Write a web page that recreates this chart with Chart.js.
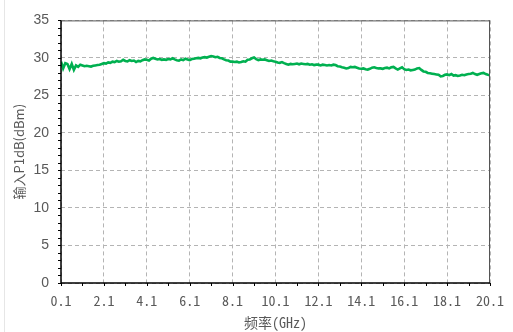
<!DOCTYPE html>
<html>
<head>
<meta charset="utf-8">
<script src="https://cdn.jsdelivr.net/npm/chart.js@4.4.1/dist/chart.umd.min.js"></script>
<style>
  html, body { margin: 0; padding: 0; background: #fff; }
  #wrap { width: 513px; height: 332px; position: relative; }
</style>
</head>
<body>
<div id="wrap"><canvas id="chart" width="513" height="332"></canvas></div>
<script>
// frequency points (GHz)
const freqs = [
  0.1, 0.2, 0.3, 0.4, 0.5, 0.6, 0.7, 0.8, 0.9, 1.0,
  1.1, 1.2, 1.3, 1.4, 1.5, 1.6, 1.7, 1.8, 1.9, 2.0,
  2.1, 2.2, 2.3, 2.4, 2.5, 2.6, 2.7, 2.8, 2.9, 3.0,
  3.1, 3.2, 3.3, 3.4, 3.5, 3.6, 3.7, 3.8, 3.9, 4.0,
  4.1, 4.2, 4.3, 4.4, 4.5, 4.6, 4.7, 4.8, 4.9, 5.0,
  5.1, 5.2, 5.3, 5.4, 5.5, 5.6, 5.7, 5.8, 5.9, 6.0,
  6.1, 6.2, 6.3, 6.4, 6.5, 6.6, 6.7, 6.8, 6.9, 7.0,
  7.1, 7.2, 7.3, 7.4, 7.5, 7.6, 7.7, 7.8, 7.9, 8.0,
  8.1, 8.2, 8.3, 8.4, 8.5, 8.6, 8.7, 8.8, 8.9, 9.0,
  9.1, 9.2, 9.3, 9.4, 9.5, 9.6, 9.7, 9.8, 9.9, 10.0,
  10.1, 10.2, 10.3, 10.4, 10.5, 10.6, 10.7, 10.8, 10.9, 11.0,
  11.1, 11.2, 11.3, 11.4, 11.5, 11.6, 11.7, 11.8, 11.9, 12.0,
  12.1, 12.2, 12.3, 12.4, 12.5, 12.6, 12.7, 12.8, 12.9, 13.0,
  13.1, 13.2, 13.3, 13.4, 13.5, 13.6, 13.7, 13.8, 13.9, 14.0,
  14.1, 14.2, 14.3, 14.4, 14.5, 14.6, 14.7, 14.8, 14.9, 15.0,
  15.1, 15.2, 15.3, 15.4, 15.5, 15.6, 15.7, 15.8, 15.9, 16.0,
  16.1, 16.2, 16.3, 16.4, 16.5, 16.6, 16.7, 16.8, 16.9, 17.0,
  17.1, 17.2, 17.3, 17.4, 17.5, 17.6, 17.7, 17.8, 17.9, 18.0,
  18.1, 18.2, 18.3, 18.4, 18.5, 18.6, 18.7, 18.8, 18.9, 19.0,
  19.1, 19.2, 19.3, 19.4, 19.5, 19.6, 19.7, 19.8, 19.9, 20.0,
  20.1
];

// input P1dB (dBm)
const p1db = [
  29.5, 28.6, 29.3, 29.2, 28.5, 29.2, 28.4, 29.0, 28.8, 29.1,
  29.0, 28.9, 28.95, 28.9, 28.85, 28.95, 29.0, 29.05, 29.1, 29.2,
  29.3, 29.25, 29.4, 29.35, 29.5, 29.45, 29.6, 29.5, 29.55, 29.75,
  29.6, 29.55, 29.7, 29.6, 29.65, 29.45, 29.6, 29.55, 29.7, 29.8,
  29.75, 29.65, 29.9, 30.0, 29.9, 29.8, 29.85, 29.75, 29.8, 29.75,
  29.85, 29.8, 29.95, 29.8, 29.7, 29.65, 29.8, 29.7, 29.9, 29.8,
  29.7, 29.85, 29.9, 29.95, 30.0, 29.95, 30.05, 30.1, 30.05, 30.15,
  30.25, 30.2, 30.1, 30.15, 30.0, 29.95, 29.8, 29.7, 29.65, 29.5,
  29.5, 29.45, 29.5, 29.4, 29.45, 29.55, 29.5, 29.75, 29.8, 29.95,
  30.05, 29.85, 29.7, 29.8, 29.75, 29.8, 29.7, 29.6, 29.65, 29.55,
  29.5, 29.4, 29.35, 29.45, 29.3, 29.2, 29.1, 29.2, 29.15, 29.2,
  29.25, 29.15, 29.25, 29.2, 29.15, 29.2, 29.1, 29.15, 29.05, 29.1,
  29.1, 29.0, 29.1, 29.05, 29.0, 29.05, 29.0, 29.1, 29.05, 28.9,
  28.85, 28.75, 28.7, 28.6, 28.65, 28.8, 28.75, 28.8, 28.7, 28.6,
  28.55, 28.6, 28.5, 28.45, 28.55, 28.7, 28.75, 28.65, 28.6, 28.6,
  28.55, 28.65, 28.7, 28.6, 28.75, 28.8, 28.6, 28.45, 28.6, 28.75,
  28.5, 28.4, 28.45, 28.35, 28.4, 28.45, 28.6, 28.65, 28.4, 28.2,
  28.15, 28.0, 27.95, 27.9, 27.85, 27.8, 27.75, 27.55, 27.6, 27.75,
  27.8, 27.7, 27.85, 27.65, 27.7, 27.6, 27.65, 27.75, 27.7, 27.8,
  27.85, 27.9, 28.0, 27.85, 27.75, 27.85, 27.95, 28.0, 27.85, 27.75,
  27.7
];

const xTicks = [0.1, 2.1, 4.1, 6.1, 8.1, 10.1, 12.1, 14.1, 16.1, 18.1, 20.1];
const yTicks = [0, 5, 10, 15, 20, 25, 30, 35];

const monoFont = '"Noto Sans Mono CJK SC", "DejaVu Sans Mono", monospace';

// frame, minor ticks and the faint left rule
const framePlugin = {
  id: 'frame',
  afterDraw(chart) {
    const ctx = chart.ctx;
    const a = chart.chartArea;
    const xs = chart.scales.x, ys = chart.scales.y;
    ctx.save();
    ctx.strokeStyle = '#e6e6e6';
    ctx.lineWidth = 1;
    ctx.beginPath();
    ctx.moveTo(4.5, 0); ctx.lineTo(4.5, 332);
    ctx.stroke();

    ctx.strokeStyle = '#555';
    ctx.beginPath();
    ctx.moveTo(a.left, a.top + 0.5); ctx.lineTo(a.right, a.top + 0.5);
    ctx.moveTo(a.right - 0.5, a.top); ctx.lineTo(a.right - 0.5, a.bottom);
    ctx.stroke();

    ctx.strokeStyle = '#000';
    ctx.lineWidth = 1.5;
    ctx.beginPath();
    ctx.moveTo(a.left, a.top); ctx.lineTo(a.left, a.bottom);
    ctx.moveTo(a.left, a.bottom); ctx.lineTo(a.right, a.bottom);
    ctx.stroke();

    ctx.lineWidth = 1;
    ctx.beginPath();
    for (let v = 0; v <= 35; v += 1) {
      const py = Math.round(ys.getPixelForValue(v)) + 0.5;
      ctx.moveTo(a.left - 3, py); ctx.lineTo(a.left, py);
    }
    for (let v = 0.1; v <= 20.15; v += 1) {
      const px = Math.round(xs.getPixelForValue(v)) + 0.5;
      ctx.moveTo(px, a.bottom); ctx.lineTo(px, a.bottom + 3);
    }
    ctx.stroke();
    ctx.restore();
  }
};

new Chart(document.getElementById('chart'), {
  type: 'line',
  data: {
    datasets: [{
      data: freqs.map((f, i) => ({ x: f, y: p1db[i] })),
      borderColor: '#00b050',
      borderWidth: 2.6,
      pointRadius: 0,
      tension: 0
    }]
  },
  options: {
    responsive: false,
    animation: false,
    layout: { padding: { top: 15, right: 21, left: 0, bottom: 0 } },
    plugins: { legend: { display: false }, tooltip: { enabled: false } },
    scales: {
      x: {
        type: 'linear',
        min: 0.1,
        max: 20.1,
        afterBuildTicks: s => { s.ticks = xTicks.map(v => ({ value: v })); },
        afterFit: s => { s.height = 49; },
        grid: { color: '#b4b4b4', drawTicks: false },
        border: { display: false, dash: [4, 3] },
        ticks: {
          padding: 9,
          color: '#595959',
          maxRotation: 0,
          autoSkip: false,
          font: { family: monoFont, size: 14 },
          callback: v => v.toFixed(1)
        },
        title: {
          display: true,
          text: '频率(GHz)',
          color: '#595959',
          padding: { top: 0, bottom: 1 },
          font: { family: monoFont, size: 14 }
        }
      },
      y: {
        min: 0,
        max: 35,
        afterBuildTicks: s => { s.ticks = yTicks.map(v => ({ value: v })); },
        afterFit: s => { s.width = 61; },
        grid: { color: '#b4b4b4', drawTicks: false },
        border: { display: false, dash: [4, 3] },
        ticks: {
          padding: 12,
          color: '#595959',
          font: { family: '"Liberation Sans", Arial, sans-serif', size: 14 }
        },
        title: {
          display: true,
          text: '输入P1dB(dBm)',
          color: '#595959',
          padding: { top: 11, bottom: 0 },
          font: { family: '"Noto Sans CJK SC", "Liberation Sans", sans-serif', size: 13 }
        }
      }
    }
  },
  plugins: [framePlugin]
});
</script>
</body>
</html>
